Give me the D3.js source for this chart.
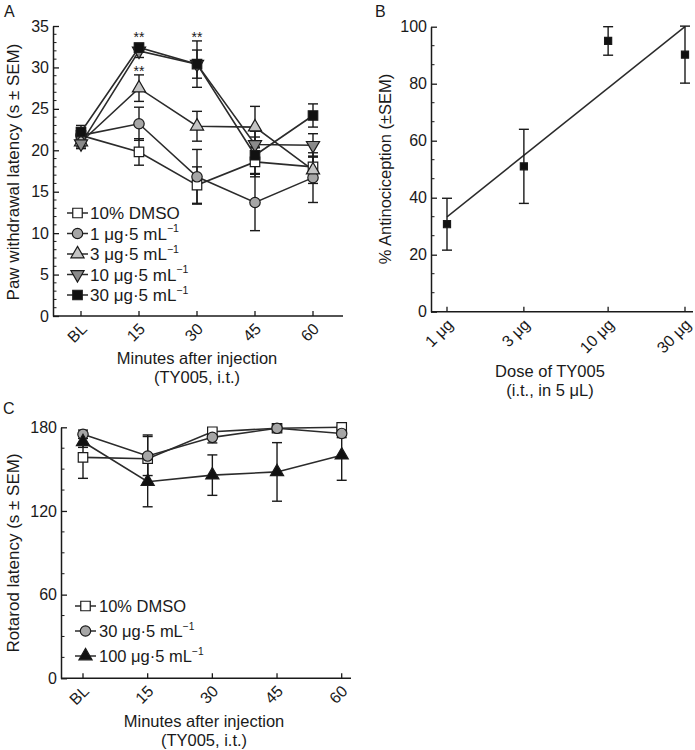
<!DOCTYPE html>
<html>
<head>
<meta charset="utf-8">
<script src="https://cdn.jsdelivr.net/npm/d3@7"></script>
<style>
  body { margin: 0; background: #fff; }
  svg { display: block; font-family: "Liberation Sans", Arial, Helvetica, sans-serif; }
</style>
</head>
<body>
<svg id="chart" width="695" height="750"></svg>
<script>
// ---------- DATA ----------
// Panel A: paw withdrawal latency
const timeLabels = ["BL", "15", "30", "45", "60"];
const seriesANames = ["10% DMSO", "1 \u03bcg\u00b75 mL", "3 \u03bcg\u00b75 mL", "10 \u03bcg\u00b75 mL", "30 \u03bcg\u00b75 mL"];
const dmsoA = [21.8, 19.8, 15.8, 18.6, 18.0];
const dmsoAsem = [0.8, 1.6, 2.2, 1.8, 1.3];
const ug1A = [21.8, 23.2, 16.8, 13.7, 16.7];
const ug1Asem = [0.8, 2.0, 3.3, 3.4, 3.0];
const ug3A = [21.0, 27.5, 22.9, 22.8, 17.6];
const ug3Asem = [0.6, 1.6, 1.8, 2.5, 1.6];
const ug10A = [20.8, 32.0, 30.4, 20.7, 20.6];
const ug10Asem = [0.6, 0.8, 1.7, 1.6, 1.4];
const ug30A = [22.2, 32.4, 30.4, 19.4, 24.2];
const ug30Asem = [0.8, 0.5, 2.8, 2.2, 1.4];
const yTicksA = [0, 5, 10, 15, 20, 25, 30, 35];
const starsA = [{t: "15", v: 34.2}, {t: "15", v: 30.2}, {t: "30", v: 34.2}];

// Panel B: dose-response
const doses = [1, 3, 10, 30];
const doseLabels = ["1 \u03bcg", "3 \u03bcg", "10 \u03bcg", "30 \u03bcg"];
const antinoc = [30.7, 51.0, 95.0, 90.2];
const antinocSem = [9.1, 13.0, 5.0, 10.0];
const fitDoses = [1, 30];
const fitValues = [33.3, 100];
const yTicksB = [0, 20, 40, 60, 80, 100];

// Panel C: rotarod latency
const seriesCNames = ["10% DMSO", "30 \u03bcg\u00b75 mL", "100 \u03bcg\u00b75 mL"];
const dmsoC = [158.4, 157.5, 176.8, 179.3, 180.0];
const dmsoCsem = [15, 17, 2, 1, 1];
const ug30C = [175.0, 159.4, 172.8, 179.3, 175.6];
const ug30Csem = [3, 14, 4, 1, 3];
const ug100C = [169.6, 141.0, 145.7, 148.0, 160.0];
const ug100Csem = [4, 18, 14.5, 21, 18];
const yTicksC = [0, 60, 120, 180];

// ---------- DRAWING ----------
const svg = d3.select("#chart");
const INK = "#1a1a1a";
const LINE = "#2b2b2b";
const tickFs = 16, titleFs = 16.5;

const markerStyles = {
  square: {type: d3.symbolSquare, size: 90, rot: 0},
  circle: {type: d3.symbolCircle, size: 85, rot: 0},
  tri: {type: d3.symbolTriangle, size: 75, rot: 0},
  triDown: {type: d3.symbolTriangle, size: 75, rot: 180},
};

function drawMarker(g, x, y, shape, fill, size) {
  const st = markerStyles[shape];
  g.append("path")
    .attr("d", d3.symbol().type(st.type).size(size || st.size)())
    .attr("transform", `translate(${x},${y}) rotate(${st.rot})`)
    .attr("fill", fill).attr("stroke", INK).attr("stroke-width", 1.2);
}

function yAxis(g, scale, x, majors, minorStep, maxV) {
  const ax = g.append("g").attr("transform", `translate(${x},0)`);
  ax.call(d3.axisLeft(scale).tickValues(majors).tickSizeInner(-6).tickSizeOuter(0).tickPadding(4));
  ax.select(".domain").attr("stroke", INK).attr("stroke-width", 1.5);
  ax.selectAll(".tick line").attr("stroke", INK).attr("stroke-width", 1.3);
  ax.selectAll(".tick text").attr("font-size", tickFs).attr("fill", INK).attr("font-family", "Liberation Sans, Arial, sans-serif");
  const minors = d3.range(0, maxV + 1e-6, minorStep).filter(v => !majors.some(m => Math.abs(m - v) < 1e-6));
  ax.selectAll(".minor").data(minors).join("line")
    .attr("x1", 0).attr("x2", 3.5)
    .attr("y1", d => scale(d)).attr("y2", d => scale(d))
    .attr("stroke", INK).attr("stroke-width", 1);
}

function xAxis(g, scale, ticks, labels, y, x0, x1) {
  g.append("line").attr("x1", x0).attr("x2", x1).attr("y1", y).attr("y2", y)
    .attr("stroke", INK).attr("stroke-width", 1.5);
  ticks.forEach((t, i) => {
    const x = scale(t);
    g.append("line").attr("x1", x).attr("x2", x).attr("y1", y).attr("y2", y - 5)
      .attr("stroke", INK).attr("stroke-width", 1.3);
    g.append("text").text(labels[i])
      .attr("transform", `translate(${x + 3},${y + 10}) rotate(-45)`)
      .attr("text-anchor", "end").attr("dy", "0.35em")
      .attr("font-size", tickFs).attr("fill", INK);
  });
}

function errBars(g, xs, ys, ms, ss, yScale, cap) {
  xs.forEach((x, i) => {
    const top = yScale(ms[i] + ss[i]), bot = yScale(ms[i] - ss[i]);
    g.append("line").attr("x1", x).attr("x2", x).attr("y1", top).attr("y2", bot)
      .attr("stroke", INK).attr("stroke-width", 1.4);
    [top, bot].forEach(yy => g.append("line").attr("x1", x - cap).attr("x2", x + cap)
      .attr("y1", yy).attr("y2", yy).attr("stroke", INK).attr("stroke-width", 1.4));
  });
}

function legendItem(g, x0, x1, y, shape, fill, label, sup, textX, fs) {
  g.append("line").attr("x1", x0).attr("x2", x1).attr("y1", y).attr("y2", y)
    .attr("stroke", LINE).attr("stroke-width", 1.5);
  drawMarker(g, (x0 + x1) / 2, y, shape, fill);
  const t = g.append("text").attr("x", textX).attr("y", y).attr("dy", "0.36em")
    .attr("font-size", fs).attr("fill", INK);
  t.append("tspan").text(label);
  if (sup) t.append("tspan").text("\u22121").attr("font-size", fs * 0.62).attr("dy", "-0.7em");
}

function panelLetter(txt, x, y) {
  svg.append("text").text(txt).attr("x", x).attr("y", y).attr("font-size", 16).attr("fill", INK);
}

// ===== Panel A =====
{
  const g = svg.append("g");
  const x = d3.scalePoint().domain(timeLabels).range([81, 313]);
  const y = d3.scaleLinear().domain([0, 35]).range([316, 26]);
  yAxis(g, y, 53, yTicksA, 1, 35);
  xAxis(g, x, timeLabels, timeLabels, 316, 53, 343);

  const series = [
    {m: dmsoA, s: dmsoAsem, shape: "square", fill: "#ffffff"},
    {m: ug1A, s: ug1Asem, shape: "circle", fill: "#a6a6a6"},
    {m: ug3A, s: ug3Asem, shape: "tri", fill: "#c4c4c4"},
    {m: ug10A, s: ug10Asem, shape: "triDown", fill: "#8a8a8a"},
    {m: ug30A, s: ug30Asem, shape: "square", fill: "#111111"},
  ];
  const xs = timeLabels.map(t => x(t));
  const line = d3.line().x((d, i) => xs[i]).y(d => y(d));
  series.forEach(s => errBars(g, xs, s.m, s.m, s.s, y, 5));
  series.forEach(s => {
    g.append("path").attr("d", line(s.m)).attr("fill", "none").attr("stroke", LINE).attr("stroke-width", 1.6);
  });
  series.forEach(s => s.m.forEach((v, i) => drawMarker(g, xs[i], y(v), s.shape, s.fill)));

  starsA.forEach(st => g.append("text").text("**").attr("x", x(st.t)).attr("y", y(st.v))
    .attr("text-anchor", "middle").attr("dy", "0.7em").attr("font-size", 14).attr("fill", INK));

  const leg = svg.append("g");
  series.forEach((s, i) => legendItem(leg, 67, 88, 213 + i * 20.5, s.shape, s.fill, seriesANames[i], i > 0, 90, 17));

  svg.append("text").text("Paw withdrawal latency (s \u00b1 SEM)")
    .attr("transform", `translate(19,172) rotate(-90)`).attr("text-anchor", "middle")
    .attr("font-size", 17).attr("fill", INK);
  svg.append("text").text("Minutes after injection").attr("x", 197).attr("y", 364)
    .attr("text-anchor", "middle").attr("font-size", titleFs).attr("fill", INK);
  svg.append("text").text("(TY005, i.t.)").attr("x", 197).attr("y", 383)
    .attr("text-anchor", "middle").attr("font-size", titleFs).attr("fill", INK);
  panelLetter("A", 4, 17);
}

// ===== Panel B =====
{
  const g = svg.append("g");
  const x = d3.scaleLog().domain([1, 30]).range([447, 685]);
  const y = d3.scaleLinear().domain([0, 100]).range([311.7, 26.7]);
  yAxis(g, y, 431, yTicksB, 20 / 3, 100);
  xAxis(g, x, doses, doseLabels, 311.7, 431, 693);

  g.append("path").attr("d", d3.line().x(d => x(d[0])).y(d => y(d[1]))(fitDoses.map((d, i) => [d, fitValues[i]])))
    .attr("fill", "none").attr("stroke", LINE).attr("stroke-width", 1.5);
  const xs = doses.map(d => x(d));
  errBars(g, xs, antinoc, antinoc, antinocSem, y, 5);
  antinoc.forEach((v, i) => drawMarker(g, xs[i], y(v), "square", "#111111", 50));

  svg.append("text").text("% Antinociception (\u00b1SEM)")
    .attr("transform", `translate(391,169) rotate(-90)`).attr("text-anchor", "middle")
    .attr("font-size", titleFs).attr("fill", INK);
  svg.append("text").text("Dose of TY005").attr("x", 550).attr("y", 377)
    .attr("text-anchor", "middle").attr("font-size", titleFs).attr("fill", INK);
  svg.append("text").text("(i.t., in 5 \u03bcL)").attr("x", 550).attr("y", 396)
    .attr("text-anchor", "middle").attr("font-size", titleFs).attr("fill", INK);
  panelLetter("B", 375, 17);
}

// ===== Panel C =====
{
  const g = svg.append("g");
  const x = d3.scalePoint().domain(timeLabels).range([83, 341.7]);
  const y = d3.scaleLinear().domain([0, 180]).range([678.3, 427.3]);
  yAxis(g, y, 61, yTicksC, 15, 180);
  xAxis(g, x, timeLabels, timeLabels, 678.3, 61, 351);

  const series = [
    {m: dmsoC, s: dmsoCsem, shape: "square", fill: "#ffffff"},
    {m: ug30C, s: ug30Csem, shape: "circle", fill: "#a6a6a6"},
    {m: ug100C, s: ug100Csem, shape: "tri", fill: "#111111"},
  ];
  const xs = timeLabels.map(t => x(t));
  const line = d3.line().x((d, i) => xs[i]).y(d => y(d));
  series.forEach(s => errBars(g, xs, s.m, s.m, s.s, y, 5));
  series.forEach(s => {
    g.append("path").attr("d", line(s.m)).attr("fill", "none").attr("stroke", LINE).attr("stroke-width", 1.6);
  });
  series.forEach(s => s.m.forEach((v, i) => drawMarker(g, xs[i], y(v), s.shape, s.fill)));

  const leg = svg.append("g");
  series.forEach((s, i) => legendItem(leg, 75, 96, 606 + i * 25, s.shape, s.fill, seriesCNames[i], i > 0, 99, 16.5));

  svg.append("text").text("Rotarod latency (s \u00b1 SEM)")
    .attr("transform", `translate(19,553) rotate(-90)`).attr("text-anchor", "middle")
    .attr("font-size", 17).attr("fill", INK);
  svg.append("text").text("Minutes after injection").attr("x", 204).attr("y", 727)
    .attr("text-anchor", "middle").attr("font-size", titleFs).attr("fill", INK);
  svg.append("text").text("(TY005, i.t.)").attr("x", 204).attr("y", 746)
    .attr("text-anchor", "middle").attr("font-size", titleFs).attr("fill", INK);
  panelLetter("C", 3, 414);
}
</script>
</body>
</html>
